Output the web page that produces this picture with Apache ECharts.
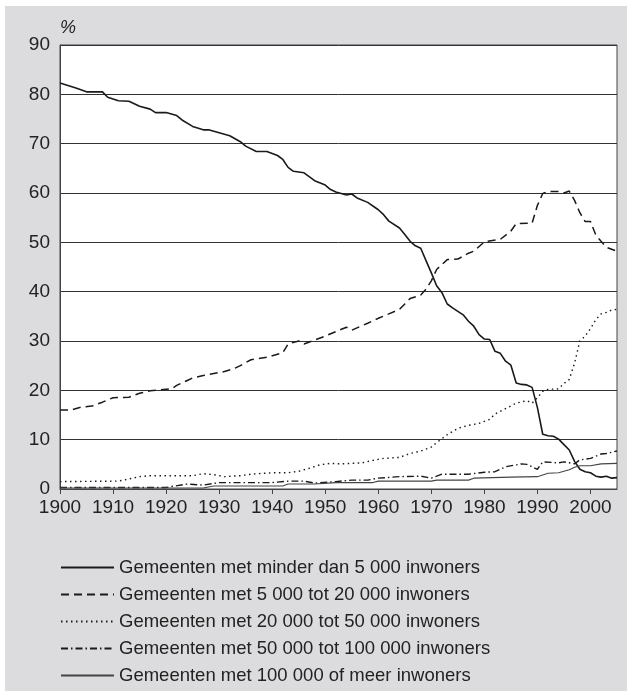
<!DOCTYPE html>
<html>
<head>
<meta charset="utf-8">
<script src="https://cdn.jsdelivr.net/npm/echarts@6/dist/echarts.min.js"></script>
<style>
  html, body { margin: 0; padding: 0; background: #fff; }
  #chart { position: absolute; left: 5px; top: 6px; width: 622px; height: 685px; background: #dcdcde; }
</style>
</head>
<body>
<div id="chart"></div>
<script>
// tick labels on the x axis
const tickYears = [1900, 1910, 1920, 1930, 1940, 1950, 1960, 1970, 1980, 1990, 2000];

const seriesNames = [
  'Gemeenten met minder dan 5 000 inwoners',
  'Gemeenten met 5 000 tot 20 000 inwoners',
  'Gemeenten met 20 000 tot 50 000 inwoners',
  'Gemeenten met 50 000 tot 100 000 inwoners',
  'Gemeenten met 100 000 of meer inwoners'
];

// < 5 000
const yearsA = [1900, 1903, 1905, 1908, 1909, 1911, 1913, 1915, 1917, 1918, 1920, 1922, 1923, 1925, 1927, 1928, 1930, 1932, 1934, 1935, 1937, 1939, 1941, 1942, 1943, 1944, 1946, 1948, 1950, 1951, 1952, 1954, 1955, 1956, 1958, 1960, 1961, 1962, 1964, 1965, 1966, 1967, 1968, 1969, 1970, 1971, 1972, 1973, 1974, 1976, 1977, 1978, 1979, 1980, 1981, 1982, 1983, 1984, 1985, 1986, 1987, 1988, 1989, 1990, 1991, 1992, 1993, 1994, 1995, 1996, 1997, 1998, 1999, 2000, 2001, 2002, 2003, 2004, 2005];
const valuesA = [82.3, 81.3, 80.5, 80.5, 79.4, 78.7, 78.6, 77.6, 77.0, 76.3, 76.3, 75.7, 74.8, 73.5, 72.8, 72.8, 72.2, 71.6, 70.4, 69.5, 68.4, 68.4, 67.6, 66.8, 65.2, 64.4, 64.1, 62.5, 61.6, 60.7, 60.2, 59.6, 59.8, 59.0, 58.1, 56.6, 55.6, 54.3, 52.9, 51.6, 50.2, 49.3, 48.8, 46.3, 43.8, 41.2, 39.8, 37.5, 36.7, 35.3, 34.0, 33.0, 31.3, 30.4, 30.3, 27.9, 27.5, 25.9, 25.1, 21.5, 21.2, 21.1, 20.6, 16.5, 11.1, 10.8, 10.7, 10.1, 9.0, 7.9, 5.6, 4.0, 3.5, 3.3, 2.6, 2.4, 2.6, 2.2, 2.3];

// 5 000 - 20 000
const yearsB = [1900, 1902, 1904, 1906, 1908, 1910, 1913, 1915, 1917, 1920, 1921, 1922, 1924, 1925, 1927, 1929, 1931, 1933, 1934, 1936, 1939, 1942, 1943, 1945, 1946, 1948, 1950, 1952, 1954, 1955, 1958, 1960, 1962, 1964, 1965, 1966, 1968, 1969, 1970, 1971, 1973, 1975, 1977, 1978, 1980, 1983, 1985, 1986, 1989, 1990, 1991, 1992, 1994, 1995, 1996, 1997, 1998, 1999, 2000, 2001, 2002, 2003, 2004, 2005];
const valuesB = [16.0, 16.0, 16.6, 16.8, 17.6, 18.5, 18.6, 19.4, 19.9, 20.2, 20.3, 21.0, 22.0, 22.5, 23.0, 23.4, 23.8, 24.5, 25.0, 26.2, 26.7, 27.6, 29.4, 30.0, 29.4, 30.2, 31.0, 31.9, 32.8, 32.2, 33.6, 34.6, 35.5, 36.4, 37.5, 38.6, 39.3, 40.5, 42.2, 44.5, 46.5, 46.6, 47.8, 48.2, 50.1, 50.6, 52.3, 53.8, 53.9, 57.5, 59.9, 60.3, 60.3, 60.0, 60.4, 58.5, 56.0, 54.2, 54.2, 51.5, 50.2, 49.0, 48.6, 48.2];

// 20 000 - 50 000
const yearsC = [1900, 1911, 1912, 1915, 1917, 1925, 1927, 1929, 1931, 1934, 1936, 1940, 1943, 1945, 1947, 1949, 1951, 1953, 1957, 1959, 1961, 1964, 1966, 1968, 1970, 1971, 1973, 1975, 1977, 1979, 1981, 1982, 1984, 1986, 1988, 1989, 1990, 1991, 1992, 1994, 1995, 1996, 1997, 1998, 1999, 2000, 2001, 2002, 2003, 2004, 2005];
const valuesC = [1.5, 1.6, 1.8, 2.5, 2.7, 2.7, 3.1, 2.9, 2.5, 2.7, 3.0, 3.3, 3.3, 3.6, 4.2, 4.9, 5.2, 5.1, 5.3, 5.8, 6.2, 6.4, 7.2, 7.7, 8.5, 9.4, 11.0, 12.3, 12.9, 13.3, 14.1, 15.2, 16.3, 17.4, 17.9, 17.4, 18.5, 19.8, 20.2, 20.3, 21.4, 22.2, 25.5, 30.0, 31.0, 32.5, 34.3, 35.5, 35.8, 36.3, 36.4];

// 50 000 - 100 000
const yearsD = [1900, 1920, 1921, 1924, 1927, 1930, 1940, 1943, 1946, 1948, 1952, 1955, 1958, 1960, 1964, 1968, 1970, 1972, 1977, 1980, 1982, 1984, 1986, 1987, 1988, 1990, 1991, 1994, 1995, 1997, 1998, 2000, 2002, 2003, 2005];
const valuesD = [0.3, 0.3, 0.5, 1.0, 0.8, 1.3, 1.3, 1.6, 1.6, 1.2, 1.5, 1.8, 1.8, 2.2, 2.5, 2.6, 2.2, 3.0, 3.0, 3.4, 3.5, 4.5, 4.9, 5.1, 5.0, 4.0, 5.5, 5.3, 5.5, 5.1, 5.9, 6.2, 7.1, 7.2, 7.7];

// 100 000 of meer
const yearsE = [1900, 1927, 1929, 1942, 1943, 1948, 1952, 1959, 1960, 1970, 1971, 1977, 1978, 1985, 1990, 1992, 1994, 1996, 1997, 1998, 2000, 2002, 2005];
const valuesE = [0.2, 0.2, 0.6, 0.6, 1.0, 1.0, 1.3, 1.3, 1.6, 1.6, 1.8, 1.8, 2.2, 2.4, 2.5, 3.2, 3.3, 3.9, 4.4, 4.7, 4.7, 5.1, 5.2];

function zip(xs, ys) {
  return xs.map((x, i) => [x, ys[i]]);
}

const fontFam = '"Liberation Sans", Arial, sans-serif';
const txt = '#222';

let myChart = echarts.init(document.getElementById('chart'));

function lineSerie(name, data, color, width, type) {
  return {
    name: name,
    type: 'line',
    data: data,
    symbol: 'none',
    showSymbol: false,
    silent: true,
    lineStyle: { color: color, width: width, type: type, cap: 'butt' },
    itemStyle: { color: color }
  };
}

let option = {
  animation: false,
  textStyle: { fontFamily: fontFam },
  grid: {
    left: 55,
    top: 39,
    width: 557,
    height: 444,
    show: true,
    backgroundColor: '#fff',
    borderColor: '#444',
    borderWidth: 1
  },
  legend: {
    orient: 'vertical',
    left: 50,
    top: 547,
    height: 150,
    itemWidth: 53,
    itemHeight: 14,
    itemGap: 8,
    selectedMode: false,
    itemStyle: { opacity: 0 },
    textStyle: { color: txt, fontSize: 18.5, fontFamily: fontFam },
    data: seriesNames
  },
  xAxis: {
    type: 'value',
    min: 1900,
    max: 2005,
    interval: 10,
    splitLine: { show: false },
    axisLine: { show: true, onZero: false, lineStyle: { color: '#444', width: 1 } },
    axisTick: { show: true, length: 5, customValues: tickYears, lineStyle: { color: '#444' } },
    axisLabel: {
      color: txt, fontSize: 19, margin: 9, fontFamily: fontFam,
      customValues: tickYears,
      formatter: (v) => String(v)
    }
  },
  yAxis: {
    type: 'value',
    min: 0,
    max: 90,
    interval: 10,
    name: '%',
    nameLocation: 'end',
    nameGap: 8,
    nameTextStyle: { color: txt, fontSize: 18, fontStyle: 'italic', align: 'left', fontFamily: fontFam },
    axisLine: { show: true, lineStyle: { color: '#444', width: 1 } },
    axisTick: { show: false },
    splitLine: { show: true, lineStyle: { color: '#333', width: 1 } },
    axisLabel: { color: txt, fontSize: 19, margin: 10, fontFamily: fontFam }
  },
  series: [
    lineSerie(seriesNames[0], zip(yearsA, valuesA), '#1a1a1a', 1.6, 'solid'),
    lineSerie(seriesNames[1], zip(yearsB, valuesB), '#1a1a1a', 1.5, [8, 5]),
    lineSerie(seriesNames[2], zip(yearsC, valuesC), '#1a1a1a', 1.4, [1.5, 3.5]),
    lineSerie(seriesNames[3], zip(yearsD, valuesD), '#1a1a1a', 1.4, [7, 3, 1.5, 3]),
    lineSerie(seriesNames[4], zip(yearsE, valuesE), '#444', 1.1, 'solid')
  ]
};

myChart.setOption(option, true);
window.addEventListener('resize', () => {
  myChart.resize();
});
</script>
</body>
</html>
